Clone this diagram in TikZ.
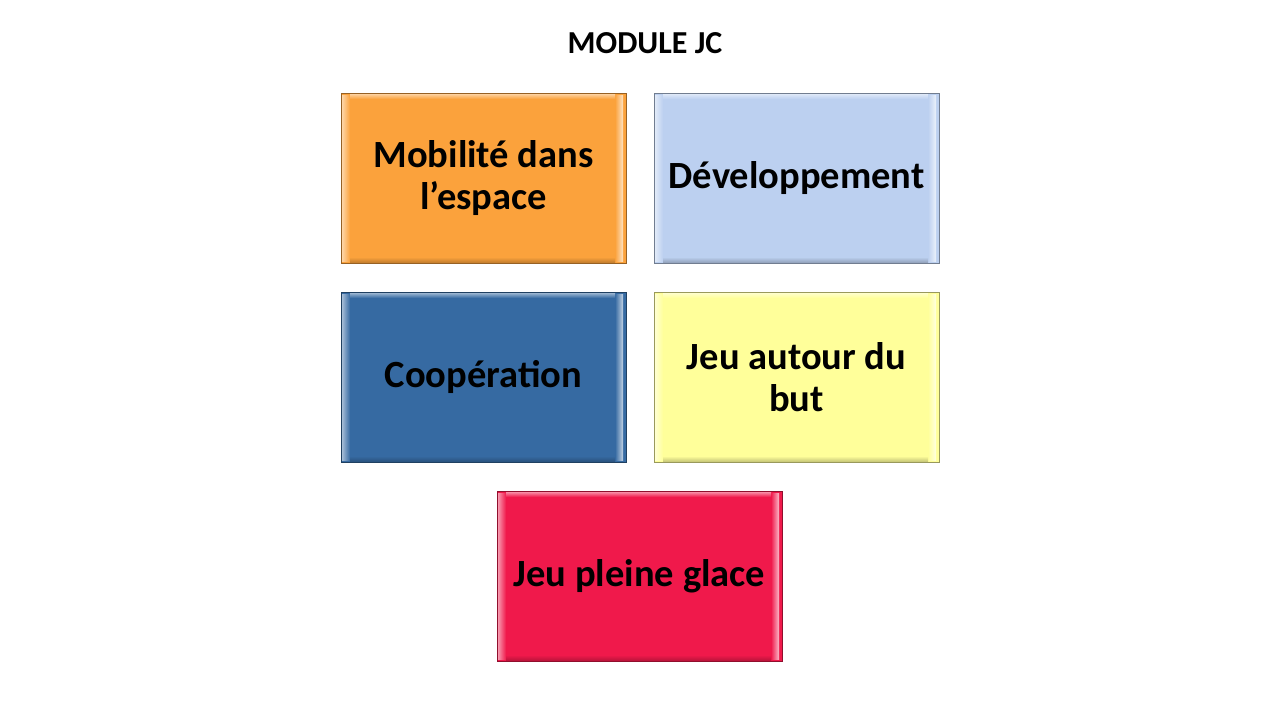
\documentclass[tikz,border=0pt]{standalone}
\usepackage{fontspec}
\setmainfont{Carlito}
\usetikzlibrary{calc}
\definecolor{cOrange}{HTML}{FBA23C}
\definecolor{cLight}{HTML}{BCD0F0}
\definecolor{cDark}{HTML}{366AA2}
\definecolor{cYellow}{HTML}{FFFF9A}
\definecolor{cRed}{HTML}{F0194B}
\tikzset{
  bev/.style={fill=#1, draw=#1!60!black, line width=0.9pt,
    minimum width=285pt, minimum height=170pt, inner sep=0pt, outer sep=0pt,
    font=\fontsize{38.5}{42}\selectfont\bfseries, align=center,
    path picture={
      \coordinate (nw) at (path picture bounding box.north west);
      \coordinate (ne) at (path picture bounding box.north east);
      \coordinate (sw) at (path picture bounding box.south west);
      \coordinate (se) at (path picture bounding box.south east);
      \shade[left color=#1!45!white, right color=#1] ($(nw)+(1pt,-2pt)$) rectangle ($(sw)+(9pt,2pt)$);
      \shade[left color=#1, right color=#1!30!white] ($(ne)+(-11pt,-2pt)$) rectangle ($(se)+(-3pt,2pt)$);
      \shade[top color=#1!50!white, bottom color=#1] ($(nw)+(9pt,-1pt)$) rectangle ($(ne)+(-11pt,-6pt)$);
      \shade[top color=#1, bottom color=#1!80!black] ($(sw)+(9pt,6pt)$) rectangle ($(se)+(-11pt,1pt)$);
    }},
  ttl/.style={font=\fontsize{32}{36}\selectfont\bfseries}
}
\begin{document}
\begin{tikzpicture}[x=1pt,y=-1pt]
\useasboundingbox[fill=white] (0,0) rectangle (1280,720);
\node[ttl] (title) at (645,43) {MODULE JC};
\node[bev=cOrange] (mob) at (483.5,178) {Mobilité dans\\l’espace};
\node[bev=cLight] (dev) at (796.5,178) {Développement};
\node[bev=cDark] (coop) at (483.5,377) {Coopération};
\node[bev=cYellow] (jeu) at (796.5,377) {Jeu autour du\\but};
\node[bev=cRed] (plg) at (639.5,576) {Jeu pleine glace};
\end{tikzpicture}
\end{document}
